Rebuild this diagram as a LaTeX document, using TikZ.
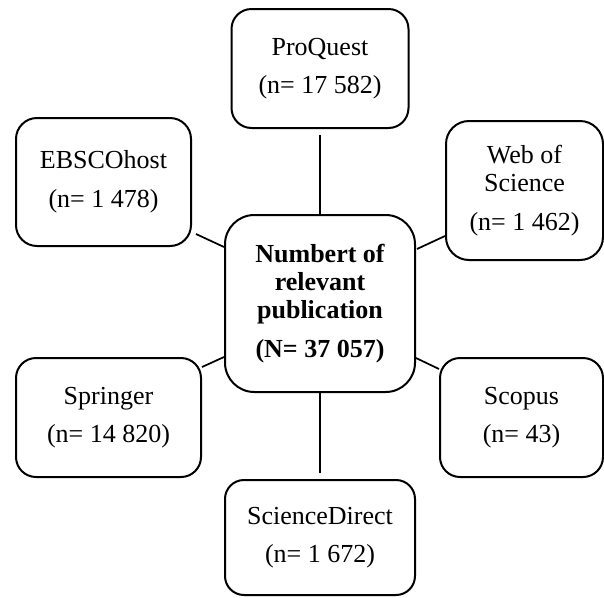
\documentclass[tikz,border=0pt]{standalone}
\usepackage{fontspec}
\setmainfont{Liberation Serif}
\usepackage{xcolor}

\begin{document}
\begin{tikzpicture}[x=0.75pt,y=-0.75pt,
    kilde/.style={draw, line width=1.5pt, rounded corners=15pt, align=center, inner sep=0pt,
        font=\fontsize{19.5}{21}\selectfont},
    linje/.style={line width=1.3pt},
]

\useasboundingbox (0,0) rectangle (604,597);

\node [kilde, minimum width=142.5pt, minimum height=132.75pt, rounded corners=22pt,
    font=\fontsize{19.5}{21}\selectfont\bfseries] (hub) at (320,303.5)
    {Numbert of\\relevant\\publication\\[8pt](N= 37 057)};

\node [kilde, minimum width=132.75pt, minimum height=89.25pt] (pq) at (320,68.5){ProQuest\\[8pt](n= 17 582)};
\node [kilde, minimum width=131.25pt, minimum height=96pt, rounded corners=15.75pt] (ebsco) at (103.5,182){EBSCOhost\\[8pt](n= 1 478)};
\node [kilde, minimum width=117.75pt, minimum height=104.25pt, rounded corners=17.25pt] (wos) at (524.5,190.5){Web of\\Science\\[8pt](n= 1 462)};
\node [kilde, minimum width=138.75pt, minimum height=89.25pt] (springer) at (108.5,417.5){Springer\\[8pt](n= 14 820)};
\node [kilde, minimum width=122.25pt, minimum height=89.25pt] (scopus) at (521.5,417.5){Scopus\\[8pt](n= 43)};
\node [kilde, minimum width=142.5pt, minimum height=86.25pt, rounded corners=14.25pt] (sd) at (320,537.5){ScienceDirect\\[8pt](n= 1 672)};

\draw[linje, shorten <=4.5pt] (pq.south) -- (hub.north);
\draw[linje, shorten >=4.5pt] (hub.south) -- (sd.north);
\draw[linje] ([xshift=3pt,yshift=9.75pt]ebsco.south east) -- ([yshift=-24.75pt]hub.north west);
\draw[linje] ([yshift=18.75pt]wos.south west) -- ([xshift=0.75pt,yshift=-26.25pt]hub.north east);
\draw[linje] ([yshift=-7.5pt]springer.north east) -- ([yshift=27pt]hub.south west);
\draw[linje] ([yshift=26.25pt]hub.south east) -- ([yshift=-9pt]scopus.north west);

\end{tikzpicture}
\end{document}
